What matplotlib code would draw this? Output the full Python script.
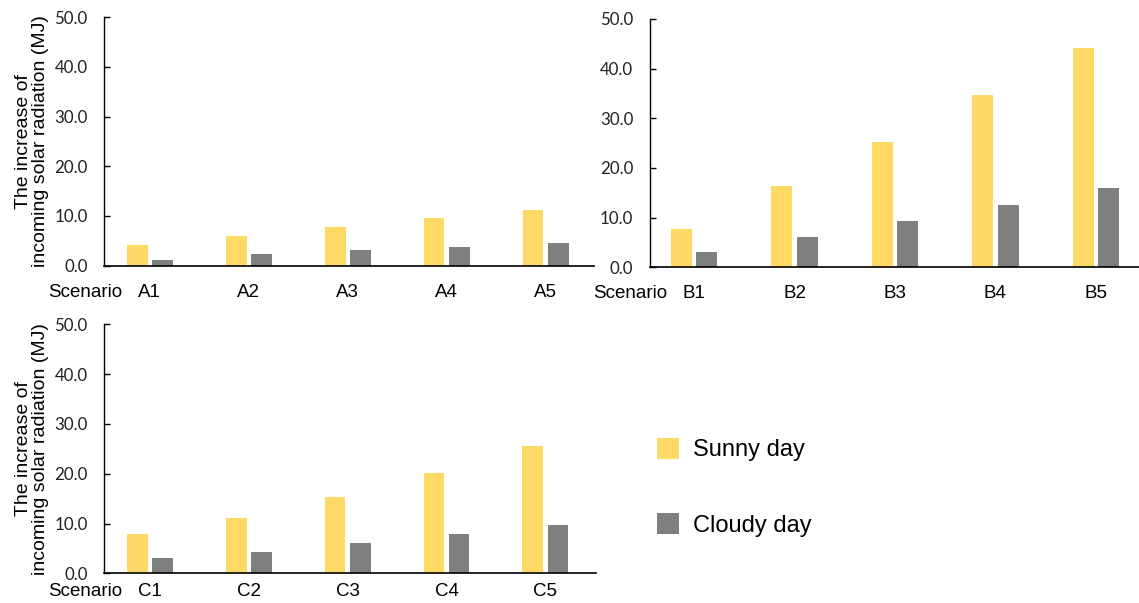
import matplotlib.pyplot as plt
import numpy as np

# values (MJ)
scen_a = ['A1', 'A2', 'A3', 'A4', 'A5']
scen_b = ['B1', 'B2', 'B3', 'B4', 'B5']
scen_c = ['C1', 'C2', 'C3', 'C4', 'C5']

sunny_a = [4.1, 6.0, 7.8, 9.5, 11.3]
cloudy_a = [1.1, 2.3, 3.1, 3.8, 4.6]
sunny_b = [7.8, 16.3, 25.2, 34.6, 44.2]
cloudy_b = [3.0, 6.2, 9.3, 12.6, 15.9]
sunny_c = [7.8, 11.2, 15.3, 20.2, 25.6]
cloudy_c = [3.0, 4.2, 6.1, 7.8, 9.7]

yticks = [0, 10, 20, 30, 40, 50]

SUNNY = '#FFD966'
CLOUDY = '#7F7F7F'
ylab = 'The increase of\nincoming solar radiation (MJ)'

fig = plt.figure(figsize=(11.39, 6.03), dpi=100)


def panel(rect, labels, sunny, cloudy, with_ylabel, xlim, xpad):
    ax = fig.add_axes(rect)
    x = np.arange(len(labels))
    b1 = ax.bar(x - 0.127, sunny, width=0.21, color=SUNNY, label='Sunny day')
    b2 = ax.bar(x + 0.127, cloudy, width=0.21, color=CLOUDY, label='Cloudy day')
    ax.set_ylim(0, 50)
    ax.set_xlim(*xlim)
    ax.set_yticks(yticks)
    ax.set_yticklabels([f'{v:.1f}' for v in yticks], family='Lato', fontsize=12.2,
                       color='#222222')
    ax.set_xticks(x)
    ax.set_xticklabels(labels, family='Liberation Sans', fontsize=13.5)
    ax.tick_params(axis='y', direction='in', length=4, pad=12, width=1)
    ax.tick_params(axis='x', length=0, pad=xpad)
    for s in ['top', 'right']:
        ax.spines[s].set_visible(False)
    ax.spines['left'].set_linewidth(1)
    ax.spines['bottom'].set_linewidth(1.2)
    # "Scenario" sits on the same line as the category labels
    ax.annotate('Scenario', xy=(0.036, 0), xycoords='axes fraction',
                xytext=(0, -xpad * 100 / 72), textcoords='offset pixels',
                ha='right', va='top', fontsize=13.5, family='Liberation Sans')
    if with_ylabel:
        ax.set_ylabel(ylab, fontsize=14, family='Liberation Sans', labelpad=4,
                      linespacing=1.0)
    return ax, b1, b2


panel([0.0916, 0.5594, 0.430, 0.412], scen_a, sunny_a, cloudy_a, True,
      (-0.46, 4.49), 13)
panel([0.5707, 0.5567, 0.4293, 0.412], scen_b, sunny_b, cloudy_b, False,
      (-0.44, 4.43), 13)
ax_c, h1, h2 = panel([0.0916, 0.0492, 0.4315, 0.413], scen_c, sunny_c, cloudy_c, True,
                     (-0.46, 4.51), 7)

fig.legend(handles=[h1, h2], loc='center left', bbox_to_anchor=(0.5766, 0.192),
           frameon=False, prop={'family': 'Liberation Sans', 'size': 17},
           handlelength=0.95, handleheight=1.0, handletextpad=0.6, labelspacing=2.2,
           borderpad=0, borderaxespad=0)

fig.savefig('out.png', dpi=100)
